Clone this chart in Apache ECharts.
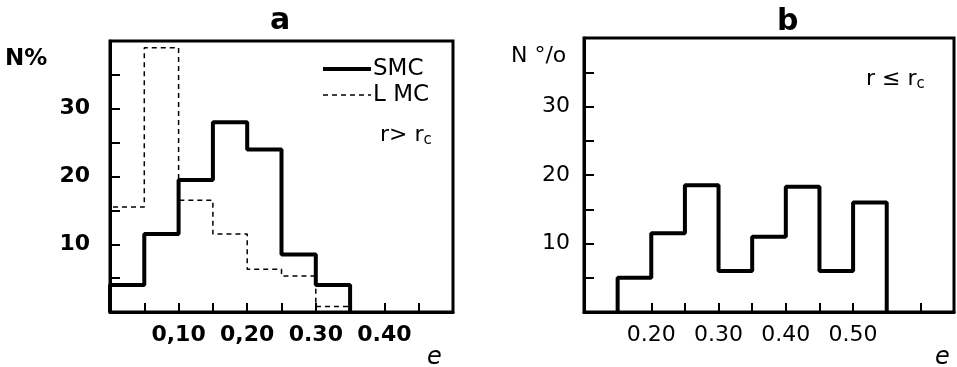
<!DOCTYPE html>
<html>
<head>
<meta charset="utf-8">
<script src="https://cdn.jsdelivr.net/npm/echarts@6/dist/echarts.min.js"></script>
<style>html,body{margin:0;padding:0;background:#fff;}#c{width:957px;height:367px;}</style>
</head>
<body>
<div id="c"></div>
<script>
// Panel a: r > rc (bin edges in e, values in N%)
const binEdgesA = [0, 0.05, 0.10, 0.15, 0.20, 0.25, 0.30, 0.35];
const smcA = [4, 11.5, 19.5, 28, 24, 8.5, 4];
const lmcA = [15.5, 39, 16.5, 11.5, 6.3, 5.3, 0.8];
// Panel b: r <= rc
const binEdgesB = [0.15, 0.20, 0.25, 0.30, 0.35, 0.40, 0.45, 0.50, 0.55];
const smcB = [5, 11.5, 18.5, 6, 11, 18.3, 6, 16];
// tick labels
const yTickValues = [10, 20, 30];
const xTickValuesA = [10, 20, 30, 40];
const xTickTextA = ['0,10', '0,20', '0.30', '0.40'];
const xTickValuesB = [20, 30, 40, 50];
const xTickTextB = ['0.20', '0.30', '0.40', '0.50'];

function steps(edges, vals) {
  const pts = [[edges[0], 0]];
  for (let i = 0; i < vals.length; i++) pts.push([edges[i], vals[i]]);
  pts.push([edges[edges.length - 1], 0]);
  return pts;
}
function xFmt(vals, texts) {
  return function (v) {
    const k = vals.indexOf(Math.round(v * 100));
    return k >= 0 ? texts[k] : '';
  };
}
const yFmt = function (v) { return yTickValues.indexOf(Math.round(v)) >= 0 ? String(Math.round(v)) : ''; };

const F = 'DejaVu Sans';
function xAxis(idx, min, max, fmt, bold) {
  return {
    type: 'value', gridIndex: idx, min: min, max: max, interval: 0.05,
    splitLine: { show: false },
    axisLine: { show: true, lineStyle: { color: '#000', width: 3 } },
    axisTick: { show: true, inside: true, length: 9, lineStyle: { color: '#000', width: 2 } },
    axisLabel: { show: true, formatter: fmt, color: '#000', fontFamily: F, fontSize: 22,
      fontWeight: bold ? 'bold' : 'normal', margin: 12, showMinLabel: true, showMaxLabel: true }
  };
}
function yAxis(idx, bold, margin) {
  return {
    type: 'value', gridIndex: idx, min: 0, max: 40, interval: 5,
    splitLine: { show: false },
    axisLine: { show: true, lineStyle: { color: '#000', width: 3 } },
    axisTick: { show: true, inside: true, length: 10, lineStyle: { color: '#000', width: 2 } },
    axisLabel: { show: true, formatter: yFmt, color: '#000', fontFamily: F, fontSize: 22,
      fontWeight: bold ? 'bold' : 'normal', margin: margin, padding: [10, 0, 0, 0] }
  };
}

const chart = echarts.init(document.getElementById('c'), null, { renderer: 'canvas' });
chart.setOption({
  backgroundColor: '#fff',
  animation: false,
  grid: [
    { left: 110, top: 41, width: 343, height: 271, show: true, borderColor: '#000', borderWidth: 3, backgroundColor: 'transparent' },
    { left: 584, top: 38, width: 370, height: 274, show: true, borderColor: '#000', borderWidth: 3, backgroundColor: 'transparent' }
  ],
  xAxis: [
    xAxis(0, 0, 0.5, xFmt(xTickValuesA, xTickTextA), true),
    xAxis(1, 0.1, 0.65, xFmt(xTickValuesB, xTickTextB), false)
  ],
  yAxis: [ yAxis(0, true, 20), yAxis(1, false, 14) ],
  legend: {
    show: true, orient: 'vertical', left: 316, top: 52,
    itemWidth: 48, itemHeight: 14, itemGap: 2,
    data: [
      { name: 'SMC', lineStyle: { width: 4, color: '#000', type: 'solid' } },
      { name: 'L MC', lineStyle: { width: 1.5, color: '#000', type: [5, 4] } }
    ],
    itemStyle: { opacity: 0 },
    textStyle: { color: '#000', fontFamily: F, fontSize: 23, lineHeight: 24, padding: [0, 0, 0, -3] }
  },
  series: [
    { name: 'SMC', type: 'line', xAxisIndex: 0, yAxisIndex: 0, step: 'end', symbol: 'none', clip: false,
      data: steps(binEdgesA, smcA), lineStyle: { color: '#000', width: 4 }, itemStyle: { color: '#000' }, z: 3 },
    { name: 'L MC', type: 'line', xAxisIndex: 0, yAxisIndex: 0, step: 'end', symbol: 'none', clip: false,
      data: steps(binEdgesA, lmcA), lineStyle: { color: '#000', width: 1.5, type: [5, 4] }, itemStyle: { color: '#000' }, z: 2 },
    { name: 'SMC b', type: 'line', xAxisIndex: 1, yAxisIndex: 1, step: 'end', symbol: 'none', clip: false,
      data: steps(binEdgesB, smcB), lineStyle: { color: '#000', width: 4 }, itemStyle: { color: '#000' }, z: 3 }
  ],
  graphic: [
    { type: 'text', left: 270, top: 6, style: { text: 'a', font: 'bold 30px "DejaVu Sans"', fill: '#000' } },
    { type: 'text', left: 777, top: 7, style: { text: 'b', font: 'bold 30px "DejaVu Sans"', fill: '#000' } },
    { type: 'text', left: 5, top: 48, style: { text: 'N%', font: 'bold 23px "DejaVu Sans"', fill: '#000' } },
    { type: 'text', left: 511, top: 45, style: { text: 'N °/o', font: '22px "DejaVu Sans"', fill: '#000' } },
    { type: 'text', left: 427, top: 346, style: { text: 'e', font: 'italic 24px "DejaVu Sans"', fill: '#000' } },
    { type: 'text', left: 935, top: 346, style: { text: 'e', font: 'italic 24px "DejaVu Sans"', fill: '#000' } },
    { type: 'text', left: 380, top: 124, style: { text: '{a|r> r}{s|c}', rich: {
        a: { fontFamily: F, fontSize: 22, color: '#000' },
        s: { fontFamily: F, fontSize: 15, color: '#000', padding: [10, 0, 0, 0] } } } },
    { type: 'text', left: 866, top: 68, style: { text: '{a|r ≤ r}{s|c}', rich: {
        a: { fontFamily: F, fontSize: 22, color: '#000' },
        s: { fontFamily: F, fontSize: 15, color: '#000', padding: [10, 0, 0, 0] } } } }
  ]
});
</script>
</body>
</html>
